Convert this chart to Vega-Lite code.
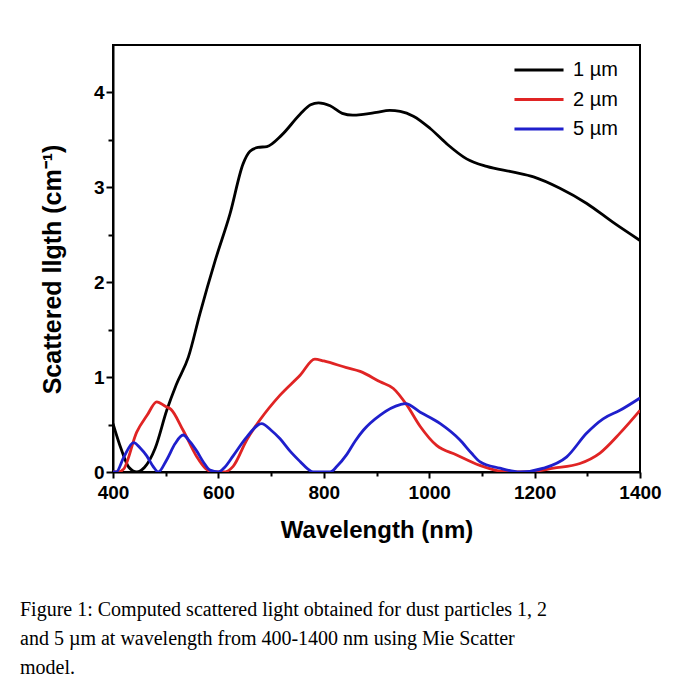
{
  "$schema": "https://vega.github.io/schema/vega-lite/v6.json",
  "width": 527,
  "height": 427,
  "autosize": {"type": "none"},
  "padding": {"left": 113, "top": 45, "right": 43, "bottom": 225},
  "background": "white",
  "title": {
    "text": ["Figure 1: Computed scattered light obtained for dust particles 1, 2", "and 5 µm at wavelength from 400-1400 nm using Mie Scatter", "model."],
    "orient": "bottom",
    "anchor": "start",
    "frame": "group",
    "align": "left",
    "font": "Liberation Serif",
    "fontSize": 20,
    "fontWeight": "normal",
    "color": "black",
    "lineHeight": 29,
    "dx": -93,
    "offset": 58
  },
  "data": {
    "values": [
      {"wavelength": 400, "value": 0.51, "size": "1 µm"},
      {"wavelength": 415, "value": 0.25, "size": "1 µm"},
      {"wavelength": 430, "value": 0.05, "size": "1 µm"},
      {"wavelength": 445, "value": 0.0, "size": "1 µm"},
      {"wavelength": 460, "value": 0.05, "size": "1 µm"},
      {"wavelength": 480, "value": 0.25, "size": "1 µm"},
      {"wavelength": 502, "value": 0.65, "size": "1 µm"},
      {"wavelength": 520, "value": 0.92, "size": "1 µm"},
      {"wavelength": 543, "value": 1.21, "size": "1 µm"},
      {"wavelength": 565, "value": 1.67, "size": "1 µm"},
      {"wavelength": 594, "value": 2.23, "size": "1 µm"},
      {"wavelength": 622, "value": 2.72, "size": "1 µm"},
      {"wavelength": 647, "value": 3.25, "size": "1 µm"},
      {"wavelength": 660, "value": 3.38, "size": "1 µm"},
      {"wavelength": 675, "value": 3.42, "size": "1 µm"},
      {"wavelength": 692, "value": 3.43, "size": "1 µm"},
      {"wavelength": 720, "value": 3.55, "size": "1 µm"},
      {"wavelength": 755, "value": 3.77, "size": "1 µm"},
      {"wavelength": 775, "value": 3.87, "size": "1 µm"},
      {"wavelength": 790, "value": 3.89, "size": "1 µm"},
      {"wavelength": 812, "value": 3.86, "size": "1 µm"},
      {"wavelength": 835, "value": 3.78, "size": "1 µm"},
      {"wavelength": 855, "value": 3.76, "size": "1 µm"},
      {"wavelength": 875, "value": 3.77, "size": "1 µm"},
      {"wavelength": 900, "value": 3.79, "size": "1 µm"},
      {"wavelength": 925, "value": 3.81, "size": "1 µm"},
      {"wavelength": 945, "value": 3.8, "size": "1 µm"},
      {"wavelength": 970, "value": 3.75, "size": "1 µm"},
      {"wavelength": 1002, "value": 3.62, "size": "1 µm"},
      {"wavelength": 1033, "value": 3.46, "size": "1 µm"},
      {"wavelength": 1071, "value": 3.3, "size": "1 µm"},
      {"wavelength": 1109, "value": 3.22, "size": "1 µm"},
      {"wavelength": 1160, "value": 3.16, "size": "1 µm"},
      {"wavelength": 1198, "value": 3.11, "size": "1 µm"},
      {"wavelength": 1248, "value": 2.99, "size": "1 µm"},
      {"wavelength": 1299, "value": 2.83, "size": "1 µm"},
      {"wavelength": 1349, "value": 2.63, "size": "1 µm"},
      {"wavelength": 1400, "value": 2.44, "size": "1 µm"},

      {"wavelength": 400, "value": 0.0, "size": "2 µm"},
      {"wavelength": 410, "value": 0.0, "size": "2 µm"},
      {"wavelength": 420, "value": 0.03, "size": "2 µm"},
      {"wavelength": 445, "value": 0.42, "size": "2 µm"},
      {"wavelength": 465, "value": 0.6, "size": "2 µm"},
      {"wavelength": 483, "value": 0.74, "size": "2 µm"},
      {"wavelength": 500, "value": 0.69, "size": "2 µm"},
      {"wavelength": 510, "value": 0.66, "size": "2 µm"},
      {"wavelength": 533, "value": 0.44, "size": "2 µm"},
      {"wavelength": 559, "value": 0.16, "size": "2 µm"},
      {"wavelength": 575, "value": 0.04, "size": "2 µm"},
      {"wavelength": 590, "value": 0.0, "size": "2 µm"},
      {"wavelength": 610, "value": 0.0, "size": "2 µm"},
      {"wavelength": 628, "value": 0.06, "size": "2 µm"},
      {"wavelength": 654, "value": 0.34, "size": "2 µm"},
      {"wavelength": 679, "value": 0.55, "size": "2 µm"},
      {"wavelength": 717, "value": 0.81, "size": "2 µm"},
      {"wavelength": 755, "value": 1.02, "size": "2 µm"},
      {"wavelength": 783, "value": 1.19, "size": "2 µm"},
      {"wavelength": 800, "value": 1.17, "size": "2 µm"},
      {"wavelength": 843, "value": 1.1, "size": "2 µm"},
      {"wavelength": 869, "value": 1.06, "size": "2 µm"},
      {"wavelength": 907, "value": 0.95, "size": "2 µm"},
      {"wavelength": 932, "value": 0.88, "size": "2 µm"},
      {"wavelength": 957, "value": 0.71, "size": "2 µm"},
      {"wavelength": 983, "value": 0.48, "size": "2 µm"},
      {"wavelength": 1014, "value": 0.28, "size": "2 µm"},
      {"wavelength": 1052, "value": 0.18, "size": "2 µm"},
      {"wavelength": 1096, "value": 0.07, "size": "2 µm"},
      {"wavelength": 1134, "value": 0.01, "size": "2 µm"},
      {"wavelength": 1160, "value": 0.0, "size": "2 µm"},
      {"wavelength": 1185, "value": 0.0, "size": "2 µm"},
      {"wavelength": 1236, "value": 0.04, "size": "2 µm"},
      {"wavelength": 1286, "value": 0.09, "size": "2 µm"},
      {"wavelength": 1324, "value": 0.2, "size": "2 µm"},
      {"wavelength": 1362, "value": 0.41, "size": "2 µm"},
      {"wavelength": 1400, "value": 0.65, "size": "2 µm"},

      {"wavelength": 400, "value": 0.0, "size": "5 µm"},
      {"wavelength": 406, "value": 0.0, "size": "5 µm"},
      {"wavelength": 420, "value": 0.15, "size": "5 µm"},
      {"wavelength": 439, "value": 0.31, "size": "5 µm"},
      {"wavelength": 452, "value": 0.25, "size": "5 µm"},
      {"wavelength": 464, "value": 0.17, "size": "5 µm"},
      {"wavelength": 476, "value": 0.06, "size": "5 µm"},
      {"wavelength": 486, "value": 0.0, "size": "5 µm"},
      {"wavelength": 502, "value": 0.13, "size": "5 µm"},
      {"wavelength": 518, "value": 0.3, "size": "5 µm"},
      {"wavelength": 533, "value": 0.39, "size": "5 µm"},
      {"wavelength": 546, "value": 0.32, "size": "5 µm"},
      {"wavelength": 559, "value": 0.22, "size": "5 µm"},
      {"wavelength": 572, "value": 0.1, "size": "5 µm"},
      {"wavelength": 584, "value": 0.02, "size": "5 µm"},
      {"wavelength": 600, "value": 0.0, "size": "5 µm"},
      {"wavelength": 612, "value": 0.05, "size": "5 µm"},
      {"wavelength": 628, "value": 0.17, "size": "5 µm"},
      {"wavelength": 654, "value": 0.37, "size": "5 µm"},
      {"wavelength": 682, "value": 0.51, "size": "5 µm"},
      {"wavelength": 700, "value": 0.44, "size": "5 µm"},
      {"wavelength": 717, "value": 0.35, "size": "5 µm"},
      {"wavelength": 736, "value": 0.22, "size": "5 µm"},
      {"wavelength": 755, "value": 0.11, "size": "5 µm"},
      {"wavelength": 770, "value": 0.03, "size": "5 µm"},
      {"wavelength": 780, "value": 0.0, "size": "5 µm"},
      {"wavelength": 812, "value": 0.0, "size": "5 µm"},
      {"wavelength": 825, "value": 0.06, "size": "5 µm"},
      {"wavelength": 843, "value": 0.18, "size": "5 µm"},
      {"wavelength": 860, "value": 0.33, "size": "5 µm"},
      {"wavelength": 875, "value": 0.44, "size": "5 µm"},
      {"wavelength": 907, "value": 0.6, "size": "5 µm"},
      {"wavelength": 945, "value": 0.71, "size": "5 µm"},
      {"wavelength": 955, "value": 0.72, "size": "5 µm"},
      {"wavelength": 983, "value": 0.63, "size": "5 µm"},
      {"wavelength": 1021, "value": 0.51, "size": "5 µm"},
      {"wavelength": 1058, "value": 0.34, "size": "5 µm"},
      {"wavelength": 1080, "value": 0.2, "size": "5 µm"},
      {"wavelength": 1096, "value": 0.11, "size": "5 µm"},
      {"wavelength": 1134, "value": 0.04, "size": "5 µm"},
      {"wavelength": 1172, "value": 0.0, "size": "5 µm"},
      {"wavelength": 1217, "value": 0.04, "size": "5 µm"},
      {"wavelength": 1261, "value": 0.16, "size": "5 µm"},
      {"wavelength": 1299, "value": 0.41, "size": "5 µm"},
      {"wavelength": 1330, "value": 0.56, "size": "5 µm"},
      {"wavelength": 1362, "value": 0.65, "size": "5 µm"},
      {"wavelength": 1400, "value": 0.78, "size": "5 µm"}
    ]
  },
  "mark": {"type": "line", "strokeWidth": 2.8, "interpolate": "monotone", "clip": true},
  "encoding": {
    "x": {
      "field": "wavelength",
      "type": "quantitative",
      "scale": {"domain": [400, 1400], "nice": false, "zero": false},
      "axis": {
        "title": "Wavelength (nm)",
        "values": [400, 500, 600, 700, 800, 900, 1000, 1100, 1200, 1300, 1400],
        "format": "d",
        "labelFlush": false,
        "labelOverlap": false,
        "labelExpr": "datum.value % 200 === 0 ? datum.label : ''",
        "tickSize": {"condition": {"test": "datum.value % 200 !== 0", "value": 4}, "value": 6},
        "labelPadding": 5,
        "titlePadding": 16
      }
    },
    "y": {
      "field": "value",
      "type": "quantitative",
      "scale": {"domain": [0, 4.5], "nice": false},
      "axis": {
        "title": "Scattered llgth (cm⁻¹)",
        "titleFontSize": 25,
        "titleY": 224,
        "values": [0, 0.5, 1, 1.5, 2, 2.5, 3, 3.5, 4],
        "labelExpr": "datum.value % 1 === 0 ? format(datum.value, 'd') : ''",
        "tickSize": {"condition": {"test": "datum.value % 1 !== 0", "value": 5}, "value": 7},
        "labelPadding": 2,
        "titlePadding": 28
      }
    },
    "color": {
      "field": "size",
      "type": "nominal",
      "scale": {"domain": ["1 µm", "2 µm", "5 µm"], "range": ["#000000", "#e02424", "#1f1fcc"]},
      "legend": {
        "title": null,
        "orient": "none",
        "legendX": 408,
        "legendY": 7,
        "symbolType": "M-1.5,0H1.5",
        "symbolSize": 1070,
        "symbolStrokeWidth": 2.8,
        "labelFont": "Liberation Sans",
        "labelFontSize": 20,
        "labelColor": "black",
        "rowPadding": 1.5,
        "labelOffset": 16
      }
    }
  },
  "config": {
    "view": {"stroke": "black", "strokeWidth": 2},
    "axis": {
      "grid": false,
      "domainColor": "black",
      "domainWidth": 2,
      "tickColor": "black",
      "tickWidth": 2,
      "labelFont": "Liberation Sans",
      "labelFontWeight": "bold",
      "labelFontSize": 19,
      "labelColor": "black",
      "titleFont": "Liberation Sans",
      "titleFontWeight": "bold",
      "titleFontSize": 24,
      "titleColor": "black"
    }
  }
}
